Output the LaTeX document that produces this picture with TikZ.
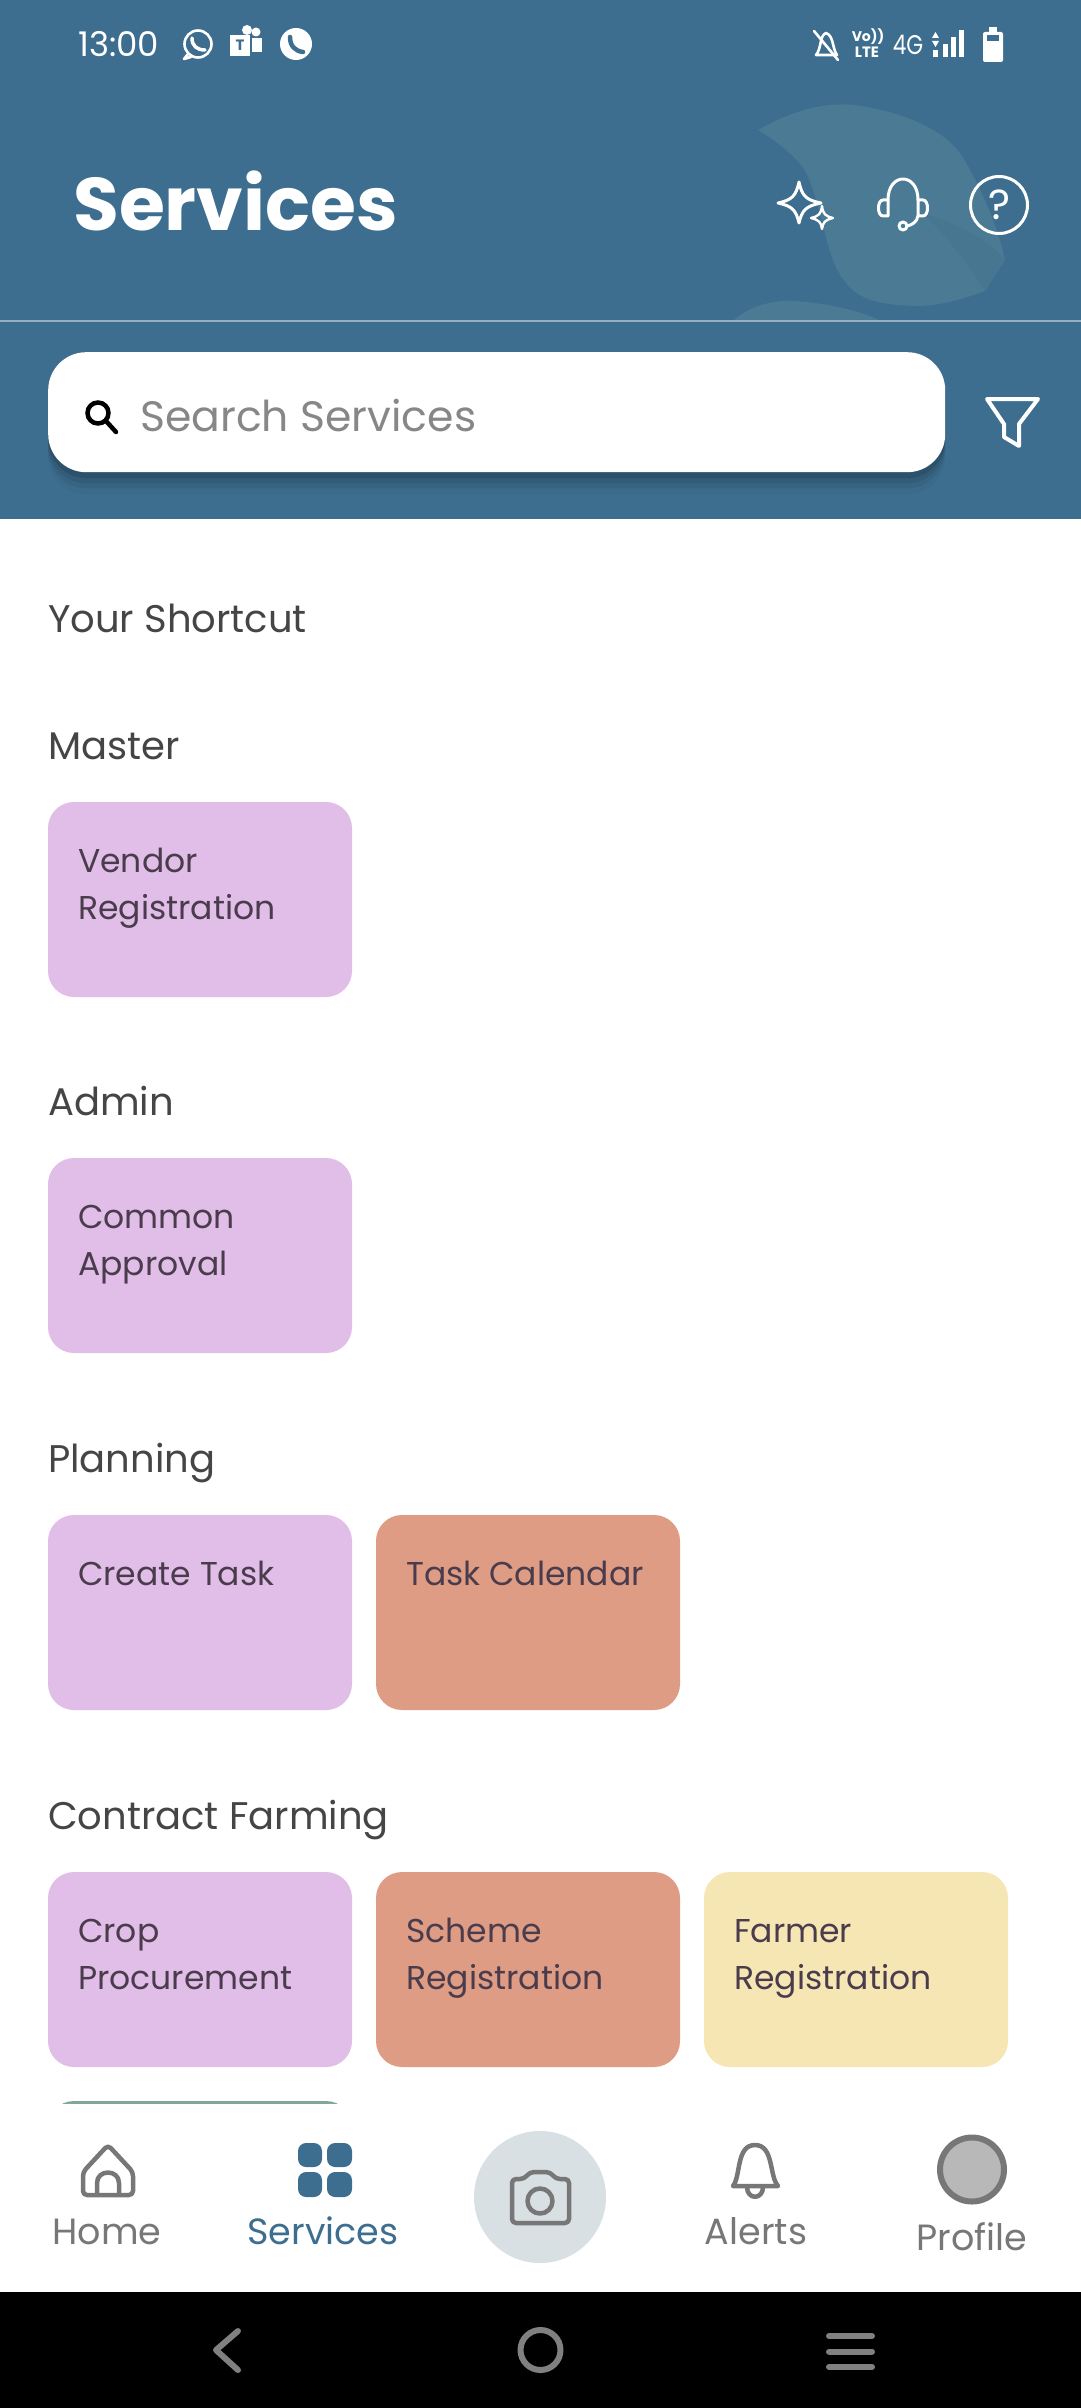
\documentclass[tikz,border=0pt]{standalone}
\usepackage{fontspec}
\setmainfont{Poppins}
\usepackage{xcolor}
\usetikzlibrary{arrows.meta, positioning, shadows, calc}
\definecolor{headblue}{HTML}{3D6E8F}
\definecolor{leafblue}{HTML}{4A7A94}
\definecolor{leaflight}{HTML}{467690}
\definecolor{cardpurple}{HTML}{E0BEE7}
\definecolor{cardorange}{HTML}{DD9C83}
\definecolor{cardyellow}{HTML}{F6E6B4}
\definecolor{cardteal}{HTML}{7FA79C}
\definecolor{headtext}{HTML}{454545}
\definecolor{cardtext}{HTML}{4A3C4C}
\definecolor{navgrey}{HTML}{777777}
\definecolor{camfill}{HTML}{D8E0E4}
\newcommand{\cardtop}{\rule{0pt}{36pt}}
\tikzset{
  card/.style={rectangle, anchor=north west, minimum width=304pt, minimum height=195pt,
               inner sep=0pt, outer sep=0pt, rounded corners=26pt},
  cardP/.style={card, fill=cardpurple},
  cardO/.style={card, fill=cardorange},
  cardY/.style={card, fill=cardyellow},
  cardT/.style={card, fill=cardteal},
  cardlabel/.style={anchor=north west, align=left, inner sep=0pt, text=cardtext,
                    font=\fontsize{33}{47}\selectfont},
  heading/.style={anchor=base west, inner sep=0pt, text=headtext,
                  font=\fontsize{38.5}{44}\selectfont},
  navlabel/.style={anchor=base, inner sep=0pt, text=navgrey,
                   font=\fontsize{36.5}{40}\selectfont},
  statusicon/.style={draw=white, line width=2.6pt, line join=round, line cap=round},
  topicon/.style={draw=white, line width=3pt, line join=round, line cap=round},
  navicon/.style={draw=navgrey, line width=4.5pt, line join=round, line cap=round},
  softkey/.style={draw=black!50, line width=6pt, line cap=round, line join=round},
  searchbox/.style={rectangle, anchor=north west, fill=white, rounded corners=38pt,
                    minimum width=897pt, minimum height=120pt, inner sep=0pt,
                    drop shadow={shadow xshift=0pt, shadow yshift=-6pt, opacity=.10, fill=black},
                    drop shadow={shadow xshift=0pt, shadow yshift=-11pt, opacity=.08, fill=black},
                    drop shadow={shadow xshift=0pt, shadow yshift=-16pt, opacity=.05, fill=black},
                    drop shadow={shadow xshift=0pt, shadow yshift=-22pt, opacity=.03, fill=black}},
}
\begin{document}
\begin{tikzpicture}[x=1pt, y=-1pt]
  \useasboundingbox (0,0) rectangle (1080,2408);
  \fill[white] (0,0) rectangle (1080,2408);

  % --- Header ---
  \fill[headblue] (0,0) rectangle (1083,519);
  \fill[leafblue] (758,130) .. controls (790,112) and (825,100) .. (861,106)
    .. controls (915,115) and (950,135) .. (964,159)
    .. controls (985,195) and (1000,235) .. (1005,260)
    -- (985,291) .. controls (960,300) and (940,306) .. (916,306)
    .. controls (880,305) and (860,300) .. (847,284)
    .. controls (825,260) and (825,215) .. (806,172)
    .. controls (795,155) and (775,140) .. (758,130) -- cycle;
  \fill[leaflight] (923,213) .. controls (960,225) and (990,240) .. (1005,260)
    -- (985,291) .. controls (965,260) and (945,235) .. (923,213) -- cycle;
  \fill[leafblue] (733,321) .. controls (750,305) and (775,300) .. (792,301)
    .. controls (820,302) and (860,310) .. (881,321) -- cycle;
  \draw[white!45!headblue, line width=1.5pt] (0,321) -- (1083,321);

  % --- Status bar ---
  \node[anchor=base west, inner sep=0pt, text=white, font=\fontsize{34}{36}\selectfont]
    (clock) at (78,57) {13:00};
  \draw[statusicon] (198,44) circle (13.5);
  \draw[statusicon] (188,54) -- (184,59) -- (191,57);
  \draw[statusicon, line width=3.5pt] (192,38) .. controls (192,46) and (197,50) .. (205,50);
  \fill[white] (230,35) rectangle (250,56);
  \node[inner sep=0pt, text=headblue, font=\bfseries\fontsize{15}{15}\selectfont] (teamsT) at (240,45.5) {T};
  \fill[white] (252,38) rectangle (262,52);
  \fill[white] (256,32) circle (4.5);
  \fill[white] (247,30) circle (5);
  \fill[white] (296,44) circle (16);
  \draw[headblue, line width=4.5pt, line cap=round] (290,37) .. controls (290,46) and (295,51) .. (303,52);
  \draw[statusicon] (816,55) -- (837,55) .. controls (832,48) and (834,36) .. (826,33)
     .. controls (819,36) and (822,48) .. (816,55);
  \draw[statusicon] (814,31) -- (838,60);
  \node[inner sep=0pt, text=white, font=\bfseries\fontsize{14}{14}\selectfont] (volte) at (868,37) {Vo))};
  \node[inner sep=0pt, text=white, font=\bfseries\fontsize{15}{15}\selectfont] (lte) at (867,52) {LTE};
  \node[inner sep=0pt, text=white, xscale=.8, font=\fontsize{27}{27}\selectfont] (fourg) at (908,45) {4G};
  \fill[white] (933,50) rectangle (938,57);
  \fill[white] (943,44) rectangle (948,57);
  \fill[white] (951,37) rectangle (956,57);
  \fill[white] (959,30) rectangle (964,57);
  \fill[white] (935.5,32) -- (939,38) -- (932,38) -- cycle;
  \fill[white] (935.5,47) -- (939,41) -- (932,41) -- cycle;
  \fill[white, rounded corners=2pt] (983,32) rectangle (1003,62);
  \fill[white] (989,27) rectangle (997,33);
  \fill[headblue] (987,35) rectangle (999,41);

  % --- Title row ---
  \node[anchor=base west, inner sep=0pt, text=white, font=\bfseries\fontsize{74.5}{80}\selectfont]
    (title) at (73,231) {Services};
  \draw[topicon] (799,182) .. controls (802,196) and (806,200) .. (821,203)
    .. controls (806,206) and (802,210) .. (799,223)
    .. controls (796,210) and (792,206) .. (778,203)
    .. controls (792,200) and (796,196) .. (799,182) -- cycle;
  \draw[topicon, line width=2.4pt] (822,206) .. controls (823,214) and (825,216) .. (833,218)
    .. controls (825,220) and (823,222) .. (822,229)
    .. controls (821,222) and (819,220) .. (811,218)
    .. controls (819,216) and (821,214) .. (822,206) -- cycle;
  \draw[topicon] (888,200) .. controls (888,172) and (918,172) .. (918,200);
  \draw[topicon] (883,200) .. controls (877,200) and (877,216) .. (883,216) -- (888,216) -- (888,200) -- cycle;
  \draw[topicon] (923,200) .. controls (929,200) and (929,216) .. (923,216) -- (918,216) -- (918,200) -- cycle;
  \draw[topicon] (918,216) .. controls (917,222) and (912,225) .. (907,226);
  \draw[topicon] (903,226) circle (4);
  \draw[topicon] (999,205) circle (28.5);
  \node[inner sep=0pt, text=white, font=\fontsize{42}{42}\selectfont] (help) at (999,205) {?};

  % --- Search row ---
  \node[searchbox] (search) at (48,352) {};
  \draw[black, line width=4.5pt, line cap=round] (98,413) circle (10.5) (106,421) -- (116,432);
  \node[anchor=base west, inner sep=0pt, text=black!47, font=\fontsize{42.5}{44}\selectfont]
    (searchtext) at (140,431) {Search Services};
  \draw[topicon, line width=4pt] (987,399) -- (1038,399) -- (1019,424) -- (1019,446) -- (1004,437)
    -- (1004,424) -- cycle;

  % --- Sections ---
  \node[heading] (shortcut) at (48,632) {Your Shortcut};
  \node[heading] (master) at (48,759) {Master};
  \node[heading] (admin) at (48,1115) {Admin};
  \node[heading] (planning) at (48,1472) {Planning};
  \node[heading] (contract) at (48,1829) {Contract Farming};

  % --- Cards ---
  \node[cardP] (vendor) at (48,802) {};
  \node[cardP] (approval) at (48,1158) {};
  \node[cardP] (task) at (48,1515) {};
  \node[cardO, right=24pt of task] (calendar) {};
  \node[cardP] (crop) at (48,1872) {};
  \node[cardO, right=24pt of crop] (scheme) {};
  \node[cardY, right=24pt of scheme] (farmer) {};
  \node[cardT] (hidden) at (48,2101) {};

  \node[cardlabel] (vendorT) at ([shift={(30,34)}]vendor.north west) {\cardtop Vendor\\Registration};
  \node[cardlabel] (approvalT) at ([shift={(30,34)}]approval.north west) {\cardtop Common\\Approval};
  \node[cardlabel] (taskT) at ([shift={(30,34)}]task.north west) {\cardtop Create Task};
  \node[cardlabel] (calendarT) at ([shift={(30,34)}]calendar.north west) {\cardtop Task Calendar};
  \node[cardlabel] (cropT) at ([shift={(30,34)}]crop.north west) {\cardtop Crop\\Procurement};
  \node[cardlabel] (schemeT) at ([shift={(30,34)}]scheme.north west) {\cardtop Scheme\\Registration};
  \node[cardlabel] (farmerT) at ([shift={(30,34)}]farmer.north west) {\cardtop Farmer\\Registration};

  % --- Bottom navigation ---
  \fill[white] (0,2104) rectangle (1083,2292);
  \draw[navicon, rounded corners=4pt] (83,2172) -- (108,2145) -- (133,2172) -- (133,2195) -- (83,2195) -- cycle;
  \draw[navicon] (97,2194) -- (97,2183) .. controls (97,2169) and (119,2169) .. (119,2183) -- (119,2194);
  \fill[headblue, rounded corners=8pt] (298,2143) rectangle (322,2167);
  \fill[headblue, rounded corners=8pt] (327,2143) rectangle (352,2167);
  \fill[headblue, rounded corners=8pt] (298,2172) rectangle (322,2197);
  \fill[headblue, rounded corners=8pt] (327,2172) rectangle (352,2197);
  \fill[camfill] (540,2197) circle (66);
  \draw[navicon, rounded corners=4pt] (512,2179) -- (524,2179) -- (530,2172) -- (550,2172) -- (556,2179)
    -- (569,2179) -- (569,2223) -- (512,2223) -- cycle;
  \draw[navicon] (540,2201) circle (12.5);
  \draw[navicon] (733,2186) .. controls (741,2176) and (736,2145) .. (755,2145)
    .. controls (774,2145) and (769,2176) .. (778,2186) -- cycle;
  \draw[navicon] (747,2187) .. controls (747,2200) and (763,2200) .. (763,2187);
  \draw[draw=navgrey, fill=black!28, line width=6pt] (972,2169.5) circle (32);

  \node[navlabel] (navhome) at (107,2244) {Home};
  \node[navlabel, text=headblue] (navservices) at (323,2244) {Services};
  \node[navlabel] (navalerts) at (756,2244) {Alerts};
  \node[navlabel] (navprofile) at (972,2250) {Profile};

  % --- System keys ---
  \fill[black] (0,2292) rectangle (1083,2411);
  \draw[softkey] (238,2331) -- (216,2350) -- (238,2370);
  \draw[softkey] (540.5,2350) circle (20);
  \draw[softkey] (829,2336) -- (872,2336);
  \draw[softkey] (829,2351.5) -- (872,2351.5);
  \draw[softkey] (829,2367) -- (872,2367);
\end{tikzpicture}
\end{document}
